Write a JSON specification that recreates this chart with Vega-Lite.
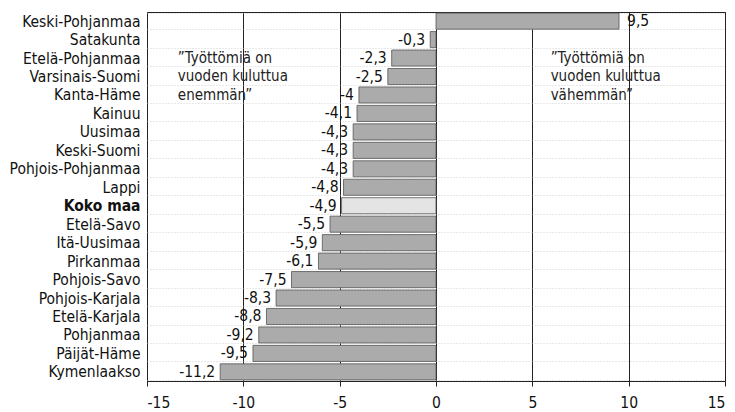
{
  "$schema": "https://vega.github.io/schema/vega-lite/v6.json",
  "width": 578,
  "height": 369,
  "autosize": {"type": "none"},
  "padding": {"left": 147, "top": 12, "right": 10, "bottom": 31},
  "background": "white",
  "config": {
    "locale": {"number": {"decimal": ",", "thousands": " ", "grouping": [3], "currency": ["", " €"], "minus": "-"}},
    "font": "DejaVu Sans Condensed",
    "view": {"stroke": "#222", "strokeWidth": 1}
  },
  "data": {"values": [
    {"region": "Keski-Pohjanmaa", "value": 9.5},
    {"region": "Satakunta", "value": -0.3},
    {"region": "Etelä-Pohjanmaa", "value": -2.3},
    {"region": "Varsinais-Suomi", "value": -2.5},
    {"region": "Kanta-Häme", "value": -4.0},
    {"region": "Kainuu", "value": -4.1},
    {"region": "Uusimaa", "value": -4.3},
    {"region": "Keski-Suomi", "value": -4.3},
    {"region": "Pohjois-Pohjanmaa", "value": -4.3},
    {"region": "Lappi", "value": -4.8},
    {"region": "Koko maa", "value": -4.9},
    {"region": "Etelä-Savo", "value": -5.5},
    {"region": "Itä-Uusimaa", "value": -5.9},
    {"region": "Pirkanmaa", "value": -6.1},
    {"region": "Pohjois-Savo", "value": -7.5},
    {"region": "Pohjois-Karjala", "value": -8.3},
    {"region": "Etelä-Karjala", "value": -8.8},
    {"region": "Pohjanmaa", "value": -9.2},
    {"region": "Päijät-Häme", "value": -9.5},
    {"region": "Kymenlaakso", "value": -11.2}
  ]},
  "encoding": {
    "y": {
      "field": "region", "type": "nominal", "sort": null,
      "scale": {"paddingInner": 0.13, "paddingOuter": 0.06},
      "axis": {
        "title": null, "domain": false, "ticks": false, "labelPadding": 7,
        "labelFontSize": 15.5, "labelColor": "#111",
        "labelFontWeight": {"expr": "datum.value === 'Koko maa' ? 'bold' : 'normal'"},
        "grid": true, "tickBand": "extent", "gridColor": "#c4c4c4", "gridDash": [1, 2], "gridWidth": 0.8
      }
    }
  },
  "layer": [
    {
      "mark": {"type": "bar", "stroke": "#555", "strokeWidth": 0.8},
      "encoding": {
        "x": {
          "field": "value", "type": "quantitative",
          "scale": {"domain": [-15, 15], "nice": false},
          "axis": {
            "title": null, "values": [-15, -10, -5, 0, 5, 10, 15], "domain": false,
            "ticks": true, "tickSize": 5, "tickColor": "#222",
            "labelPadding": 9, "labelFontSize": 15.5, "labelColor": "#111",
            "grid": true, "gridColor": "#222", "gridWidth": 1
          }
        },
        "x2": {"datum": 0},
        "fill": {"condition": {"test": "datum.region === 'Koko maa'", "value": "#e4e4e4"}, "value": "#ababab"}
      }
    },
    {
      "transform": [{"filter": "datum.value < 0"}],
      "mark": {"type": "text", "align": "right", "baseline": "middle", "dx": -5, "fontSize": 15.5, "color": "#111"},
      "encoding": {
        "x": {"field": "value", "type": "quantitative"},
        "text": {"field": "value", "type": "quantitative", "format": ".1~f"}
      }
    },
    {
      "transform": [{"filter": "datum.value >= 0"}],
      "mark": {"type": "text", "align": "left", "baseline": "middle", "dx": 8, "fontSize": 15.5, "color": "#111"},
      "encoding": {
        "x": {"field": "value", "type": "quantitative"},
        "text": {"field": "value", "type": "quantitative", "format": ".1~f"}
      }
    },
    {
      "data": {"values": [{"note": ["”Työttömiä on", "vuoden kuluttua", "enemmän”"]}]},
      "mark": {"type": "text", "align": "left", "baseline": "middle", "fontSize": 15, "lineHeight": 18.4, "color": "#222"},
      "encoding": {
        "x": {"datum": -13.4},
        "y": {"datum": "Etelä-Pohjanmaa"},
        "text": {"field": "note"}
      }
    },
    {
      "data": {"values": [{"note": ["”Työttömiä on", "vuoden kuluttua", "vähemmän”"]}]},
      "mark": {"type": "text", "align": "left", "baseline": "middle", "fontSize": 15, "lineHeight": 18.4, "color": "#222"},
      "encoding": {
        "x": {"datum": 5.95},
        "y": {"datum": "Etelä-Pohjanmaa"},
        "text": {"field": "note"}
      }
    }
  ]
}
